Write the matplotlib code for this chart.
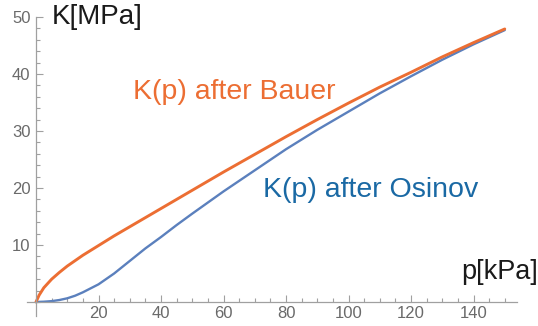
import matplotlib
matplotlib.use("Agg")
import matplotlib.pyplot as plt
from matplotlib.ticker import FixedLocator

# bulk modulus K [MPa] against pressure p [kPa]
p_bauer = [0, 1, 2.5, 5, 7.5, 10, 15, 20, 25, 30, 35, 40, 45, 50, 60, 70,
           80, 90, 100, 110, 120, 130, 140, 150]
k_bauer = [0, 1.2, 2.5, 4.0, 5.2, 6.3, 8.2, 9.9, 11.6, 13.2, 14.8, 16.4,
           18.0, 19.6, 22.8, 25.9, 29.0, 32.0, 34.9, 37.7, 40.3, 43.0, 45.5,
           47.9]

p_osinov = [0, 2.5, 5, 7.5, 10, 12.5, 15, 17.5, 20, 25, 30, 35, 40, 45, 50,
            60, 70, 80, 90, 100, 110, 120, 130, 140, 150]
k_osinov = [0, 0.05, 0.15, 0.35, 0.65, 1.1, 1.7, 2.4, 3.1, 5.0, 7.2, 9.4,
            11.4, 13.5, 15.5, 19.4, 23.1, 26.8, 30.2, 33.4, 36.6, 39.6, 42.5,
            45.2, 47.7]

x_ticks = [20, 40, 60, 80, 100, 120, 140]
y_ticks = [10, 20, 30, 40, 50]

orange = "#ec6e33"
blue = "#5b80bd"
axis_grey = "#a0a0a0"
label_grey = "#6a6a6a"

plt.rcParams['font.family'] = ['Liberation Sans', 'DejaVu Sans']

W, H = 538, 326
fig = plt.figure(figsize=(W / 100, H / 100), dpi=100)

# pixel placement of the data origin and scale
x0, xmin, xmax = 36.0, -3.0, 154.0
sx = 3.125
y0, ymin, ymax = 302.0, -2.5, 50.0
sy = 5.7
left = (x0 + xmin * sx) / W
width = (xmax - xmin) * sx / W
bottom = (H - (y0 - ymin * sy)) / H
height = (ymax - ymin) * sy / H
ax = fig.add_axes([left, bottom, width, height])

ax.plot(p_osinov, k_osinov, color=blue, lw=1.7, solid_capstyle='round')
ax.plot(p_bauer, k_bauer, color=orange, lw=2.1, solid_capstyle='round')

ax.set_xlim(xmin, xmax)
ax.set_ylim(ymin, ymax)

for side in ['top', 'right']:
    ax.spines[side].set_visible(False)
ax.spines['left'].set_position(('data', 0))
ax.spines['bottom'].set_position(('data', 0))
for side in ['left', 'bottom']:
    ax.spines[side].set_color(axis_grey)
    ax.spines[side].set_linewidth(0.9)

ax.xaxis.set_major_locator(FixedLocator(x_ticks))
ax.xaxis.set_minor_locator(FixedLocator([v for v in range(5, 155, 5) if v not in x_ticks]))
ax.yaxis.set_major_locator(FixedLocator(y_ticks))
ax.yaxis.set_minor_locator(FixedLocator([v for v in range(2, 50, 2) if v not in y_ticks]))

ax.tick_params(which='both', direction='in', color=axis_grey, width=0.8,
               labelcolor=label_grey, labelsize=12)
ax.tick_params(which='major', length=5, pad=4)
ax.tick_params(which='minor', length=3)
ax.tick_params(axis='x', which='major', pad=3)

ax.text(5, 50, "K[MPa]", fontsize=20, color="#1a1a1a", va='center', ha='left')
ax.text(160.5, 5.3, "p[kPa]", fontsize=19.5, color="#1a1a1a", va='center',
        ha='right', clip_on=False)
ax.text(31, 36.8, "K(p) after Bauer", fontsize=20.5, color=orange,
        va='center', ha='left')
ax.text(72.6, 19.6, "K(p) after Osinov", fontsize=20.5, color="#1a69a4",
        va='center', ha='left')

fig.savefig("out.png", dpi=100)
